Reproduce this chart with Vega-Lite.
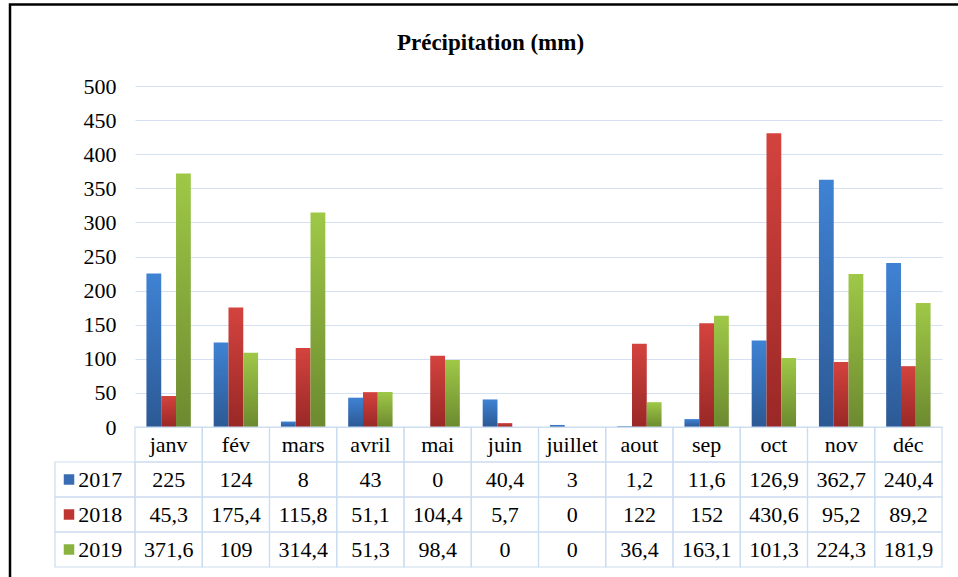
{
  "$schema": "https://vega.github.io/schema/vega-lite/v6.json",
  "width": 807,
  "height": 341,
  "autosize": {"type": "none"},
  "padding": {"left": 135, "top": 86, "right": 16, "bottom": 150},
  "background": "white",
  "title": {"text": "Précipitation (mm)", "font": "Liberation Serif", "fontSize": 23, "fontWeight": "bold", "color": "#000000", "anchor": "middle", "frame": "group", "offset": -75, "dx": -48, "baseline": "bottom"},
  "datasets": {
    "precip": [
      {"mois": "janv", "annee": "2017", "valeur": 225},
      {"mois": "fév", "annee": "2017", "valeur": 124},
      {"mois": "mars", "annee": "2017", "valeur": 8},
      {"mois": "avril", "annee": "2017", "valeur": 43},
      {"mois": "mai", "annee": "2017", "valeur": 0},
      {"mois": "juin", "annee": "2017", "valeur": 40.4},
      {"mois": "juillet", "annee": "2017", "valeur": 3},
      {"mois": "aout", "annee": "2017", "valeur": 1.2},
      {"mois": "sep", "annee": "2017", "valeur": 11.6},
      {"mois": "oct", "annee": "2017", "valeur": 126.9},
      {"mois": "nov", "annee": "2017", "valeur": 362.7},
      {"mois": "déc", "annee": "2017", "valeur": 240.4},
      {"mois": "janv", "annee": "2018", "valeur": 45.3},
      {"mois": "fév", "annee": "2018", "valeur": 175.4},
      {"mois": "mars", "annee": "2018", "valeur": 115.8},
      {"mois": "avril", "annee": "2018", "valeur": 51.1},
      {"mois": "mai", "annee": "2018", "valeur": 104.4},
      {"mois": "juin", "annee": "2018", "valeur": 5.7},
      {"mois": "juillet", "annee": "2018", "valeur": 0},
      {"mois": "aout", "annee": "2018", "valeur": 122},
      {"mois": "sep", "annee": "2018", "valeur": 152},
      {"mois": "oct", "annee": "2018", "valeur": 430.6},
      {"mois": "nov", "annee": "2018", "valeur": 95.2},
      {"mois": "déc", "annee": "2018", "valeur": 89.2},
      {"mois": "janv", "annee": "2019", "valeur": 371.6},
      {"mois": "fév", "annee": "2019", "valeur": 109},
      {"mois": "mars", "annee": "2019", "valeur": 314.4},
      {"mois": "avril", "annee": "2019", "valeur": 51.3},
      {"mois": "mai", "annee": "2019", "valeur": 98.4},
      {"mois": "juin", "annee": "2019", "valeur": 0},
      {"mois": "juillet", "annee": "2019", "valeur": 0},
      {"mois": "aout", "annee": "2019", "valeur": 36.4},
      {"mois": "sep", "annee": "2019", "valeur": 163.1},
      {"mois": "oct", "annee": "2019", "valeur": 101.3},
      {"mois": "nov", "annee": "2019", "valeur": 224.3},
      {"mois": "déc", "annee": "2019", "valeur": 181.9}
    ]
  },
  "layer": [
    {
      "data": {"values": [{}]},
      "mark": {"type": "rect", "fill": "transparent", "stroke": "#000000", "strokeWidth": 2.5},
      "encoding": {
        "x": {"datum": 0, "type": "quantitative", "scale": {"domain": [0, 1], "range": [-125, 900]}, "axis": null},
        "x2": {"datum": 1},
        "y": {"datum": 0, "type": "quantitative", "scale": {"domain": [0, 1], "range": [-81.5, 600]}, "axis": null},
        "y2": {"datum": 1}
      }
    },
    {
      "data": {"name": "precip"},
      "encoding": {
        "x": {"field": "mois", "type": "nominal", "sort": null,
              "scale": {"domain": ["janv","fév","mars","avril","mai","juin","juillet","aout","sep","oct","nov","déc"], "paddingInner": 0.34, "paddingOuter": 0.17},
              "axis": null},
        "xOffset": {"field": "annee", "type": "nominal", "scale": {"domain": ["2017","2018","2019"], "paddingInner": 0, "paddingOuter": 0}},
        "y": {"field": "valeur", "type": "quantitative",
              "scale": {"domain": [0, 500], "nice": false, "zero": true},
              "axis": {"values": [0,50,100,150,200,250,300,350,400,450,500], "title": null, "domain": false, "ticks": false, "tickSize": 0, "labelPadding": 19, "labelFont": "Liberation Serif", "labelFontSize": 22, "labelColor": "#000000", "grid": true, "gridColor": "#D5E1F2", "gridWidth": 1.2}}
      },
      "layer": [
        {
          "transform": [{"filter": "datum.annee === '2017'"}],
          "mark": {"type": "bar", "color": {"gradient": "linear", "x1": 0, "y1": 0, "x2": 0, "y2": 1, "stops": [{"offset": 0, "color": "#3F82D4"}, {"offset": 1, "color": "#2C5994"}]}}
        },
        {
          "transform": [{"filter": "datum.annee === '2018'"}],
          "mark": {"type": "bar", "color": {"gradient": "linear", "x1": 0, "y1": 0, "x2": 0, "y2": 1, "stops": [{"offset": 0, "color": "#D4433E"}, {"offset": 1, "color": "#992826"}]}}
        },
        {
          "transform": [{"filter": "datum.annee === '2019'"}],
          "mark": {"type": "bar", "color": {"gradient": "linear", "x1": 0, "y1": 0, "x2": 0, "y2": 1, "stops": [{"offset": 0, "color": "#9FC847"}, {"offset": 1, "color": "#6C8A2F"}]}}
        }
      ]
    },
    {
      "data": {"name": "precip"},
      "encoding": {
        "x": {"field": "mois", "type": "nominal", "sort": null,
              "scale": {"domain": ["janv","fév","mars","avril","mai","juin","juillet","aout","sep","oct","nov","déc"], "paddingInner": 0, "paddingOuter": 0},
              "axis": null}
      },
      "layer": [
        {
          "mark": {"type": "rect", "fill": "transparent", "stroke": "#CCDCF0", "strokeWidth": 1.2},
          "encoding": {
            "y": {"field": "annee", "type": "nominal", "scale": {"domain": ["mois","2017","2018","2019"], "range": [341, 481], "paddingInner": 0, "paddingOuter": 0}, "axis": null}
          }
        },
        {
          "transform": [{"filter": "datum.annee === '2017'"}],
          "mark": {"type": "rect", "fill": "transparent", "stroke": "#CCDCF0", "strokeWidth": 1.2},
          "encoding": {
            "y": {"datum": "mois", "type": "nominal"}
          }
        },
        {
          "mark": {"type": "text", "font": "Liberation Serif", "fontSize": 22, "color": "#000000", "baseline": "middle", "align": "center"},
          "encoding": {
            "y": {"field": "annee", "type": "nominal"},
            "text": {"field": "valeur", "type": "quantitative", "format": "~g"}
          }
        },
        {
          "transform": [{"filter": "datum.annee === '2017'"}],
          "mark": {"type": "text", "font": "Liberation Serif", "fontSize": 22, "color": "#000000", "baseline": "middle", "align": "center"},
          "encoding": {
            "y": {"datum": "mois", "type": "nominal"},
            "text": {"field": "mois", "type": "nominal"}
          }
        }
      ]
    },
    {
      "data": {"name": "precip"},
      "transform": [{"filter": "datum.mois === 'janv'"}],
      "encoding": {
        "y": {"field": "annee", "type": "nominal", "scale": {"domain": ["mois","2017","2018","2019"], "range": [341, 481], "paddingInner": 0, "paddingOuter": 0}, "axis": null}
      },
      "layer": [
        {
          "mark": {"type": "rect", "fill": "transparent", "stroke": "#CCDCF0", "strokeWidth": 1.2},
          "encoding": {
            "x": {"datum": "hdr", "type": "nominal", "scale": {"domain": ["hdr"], "range": [-80, 0], "paddingInner": 0, "paddingOuter": 0}, "axis": null}
          }
        },
        {
          "mark": {"type": "square", "size": 110, "filled": true, "opacity": 1},
          "encoding": {
            "x": {"datum": "hdr", "type": "nominal", "bandPosition": 0.175},
            "color": {"field": "annee", "type": "nominal", "scale": {"domain": ["2017","2018","2019"], "range": ["#386CB3", "#BE3632", "#8AB23F"]}, "legend": null}
          }
        },
        {
          "mark": {"type": "text", "font": "Liberation Serif", "fontSize": 22, "color": "#000000", "baseline": "middle", "align": "left"},
          "encoding": {
            "x": {"datum": "hdr", "type": "nominal", "bandPosition": 0.29},
            "text": {"field": "annee", "type": "nominal"}
          }
        }
      ]
    }
  ],
  "resolve": {"scale": {"x": "independent", "y": "independent", "color": "independent", "xOffset": "independent"}},
  "config": {
    "view": {"stroke": null},
    "font": "Liberation Serif",
    "locale": {"number": {"decimal": ",", "thousands": " ", "grouping": [3], "currency": ["", " €"]}}
  }
}
